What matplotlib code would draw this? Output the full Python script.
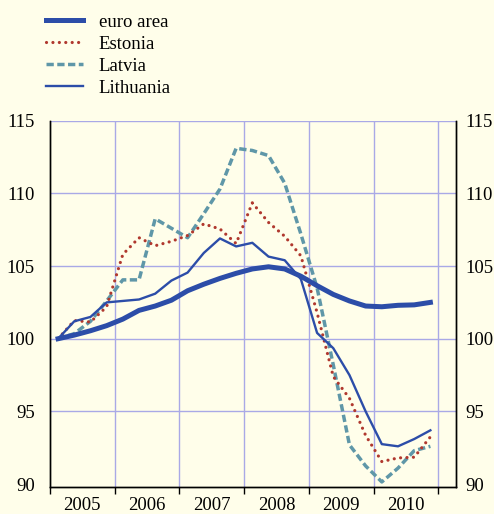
import matplotlib
matplotlib.use("Agg")
import matplotlib.pyplot as plt
import numpy as np

plt.rcParams["font.family"] = ["Liberation Serif", "DejaVu Serif"]

# quarterly index, 2005 Q1 = 100
years = [2005, 2006, 2007, 2008, 2009, 2010]
euro_area = [100.0, 100.25, 100.55, 100.9, 101.35, 101.95, 102.25, 102.65,
             103.3, 103.75, 104.15, 104.5, 104.8, 104.95, 104.8, 104.3,
             103.65, 103.05, 102.6, 102.25, 102.2, 102.3, 102.33, 102.5]
estonia = [100.0, 101.25, 101.15, 102.2, 105.8, 106.95, 106.4, 106.7,
           107.1, 107.9, 107.55, 106.55, 109.35, 108.0, 107.05, 105.7,
           101.8, 97.4, 95.9, 93.35, 91.55, 91.8, 91.85, 93.25]
latvia = [100.0, 100.35, 101.2, 102.6, 104.05, 104.05, 108.25, 107.6,
          106.95, 108.6, 110.3, 113.1, 112.95, 112.6, 110.7, 107.2,
          103.5, 98.2, 92.7, 91.25, 90.15, 91.1, 92.3, 92.6]
lithuania = [100.0, 101.2, 101.5, 102.5, 102.6, 102.7, 103.1, 104.0,
             104.55, 105.9, 106.9, 106.35, 106.6, 105.65, 105.4, 104.1,
             100.4, 99.35, 97.5, 95.0, 92.75, 92.6, 93.1, 93.7]
y_ticks = [90, 95, 100, 105, 110, 115]

BG = "#fffeea"
BLUE = "#2c4da8"
RED = "#b0382e"
TEAL = "#5f97a8"
GRID = "#a9a9e6"
FS = 13.5

x = years[0] + (np.arange(len(euro_area)) + 0.5) / 4

fig = plt.figure(figsize=(4.94, 5.14), dpi=100, facecolor=BG)
ax = fig.add_axes([0.1012, 0.0525, 0.8218, 0.7127], facecolor=BG)

ax.plot(x, latvia, color=TEAL, lw=2.5, linestyle=(0, (2.1, 1.0)),
        label="Latvia", zorder=3)
ax.plot(x, estonia, color=RED, lw=2.3, linestyle=(0, (0.01, 2.0)),
        dash_capstyle="round", label="Estonia", zorder=3)
ax.plot(x, lithuania, color=BLUE, lw=1.7, label="Lithuania", zorder=4)
ax.plot(x, euro_area, color=BLUE, lw=3.6, label="euro area", zorder=5)

ax.set_xlim(2005.037, 2011.27)
ax.set_ylim(89.8, 115)

# gridlines
for yv in y_ticks[1:]:
    ax.axhline(yv, color=GRID, lw=1.0, zorder=1)
for yr in years[1:] + [2011]:
    ax.axvline(yr, color=GRID, lw=1.0, zorder=1)

ax.set_yticks(y_ticks)
ax.tick_params(axis="y", length=0, labelsize=FS, pad=10.8)

# right-hand axis repeats the scale
ax2 = ax.twinx()
ax2.set_ylim(ax.get_ylim())
ax2.set_yticks(y_ticks)
ax2.tick_params(axis="y", length=0, labelsize=FS, pad=6.5)
ax2.spines["top"].set_visible(False)

ax.set_xticks(years + [2011])
ax.set_xticklabels([])
ax.set_xticks([yr + 0.5 for yr in years], minor=True)
ax.set_xticklabels([str(yr) for yr in years], minor=True)
ax.tick_params(axis="x", which="major", direction="out", length=5,
               width=1.0, color="black")
ax.tick_params(axis="x", which="minor", length=0, labelsize=FS, pad=7)

ax.spines["top"].set_visible(False)
for a in (ax, ax2):
    for side in ["left", "right", "bottom"]:
        a.spines[side].set_color("black")
        a.spines[side].set_linewidth(1.0)

handles, labels = ax.get_legend_handles_labels()
order = [3, 1, 0, 2]
fig.legend([handles[i] for i in order], [labels[i] for i in order],
           loc="upper left", bbox_to_anchor=(0.078, 0.988),
           frameon=False, fontsize=FS, handlelength=1.95,
           handletextpad=0.85, labelspacing=0.26, borderaxespad=0)

fig.savefig("out.png", dpi=100, facecolor=BG)
